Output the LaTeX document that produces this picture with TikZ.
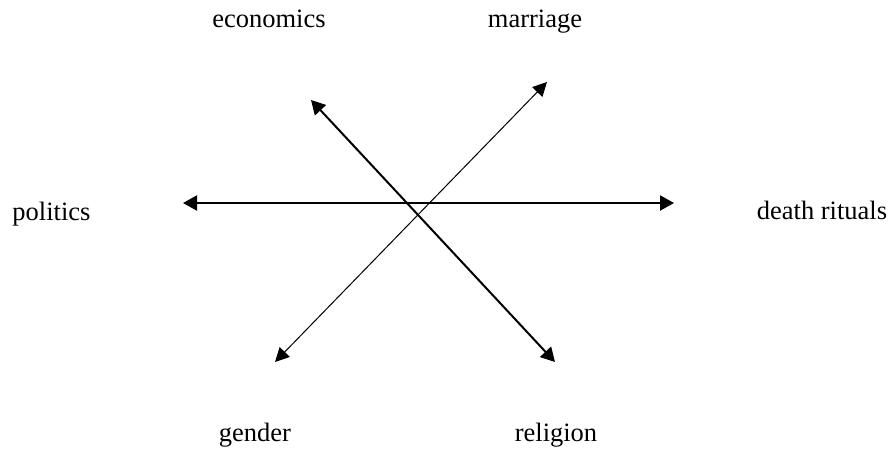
\documentclass[tikz,border=0pt]{standalone}
\usepackage{fontspec}
\setmainfont{Liberation Serif}
\usepackage{tikz}
\usetikzlibrary{arrows.meta}
\tikzset{
  topic/.style={inner sep=0pt,anchor=base,font=\fontsize{26.5}{30}\selectfont},
  thickarrow/.style={{Triangle[length=14pt,width=15pt]}-{Triangle[length=14pt,width=15pt]},line width=2pt},
  thinarrow/.style={{Triangle[length=14pt,width=14pt]}-{Triangle[length=14pt,width=14pt]},line width=1pt}
}
\begin{document}
\begin{tikzpicture}[x=1pt,y=-1pt]
			\useasboundingbox (0,0) rectangle (891,448);
			
			\node[topic] (econ) at (269,27) {economics};
			\node[topic] (marr) at (535,27) {marriage};
			\node[topic] (pol) at (51.5,220) {politics};
			\node[topic] (death) at (822,219) {death rituals};
			\node[topic] (gend) at (255,441) {gender};
			\node[topic] (rel) at (556,441) {religion};
			
			\coordinate (econtip) at (311,100);
			\coordinate (reltip) at (555,362);
			\coordinate (marrtip) at (547,82);
			\coordinate (gendtip) at (275,362);
			\coordinate (poltip) at (183,203);
			\coordinate (deathtip) at (674,203);
			
			\draw[thickarrow] (poltip) -- (deathtip);
			\draw[thickarrow] (econtip) -- (reltip);
			\draw[thinarrow] (marrtip) -- (gendtip);
			
		\end{tikzpicture}
\end{document}
